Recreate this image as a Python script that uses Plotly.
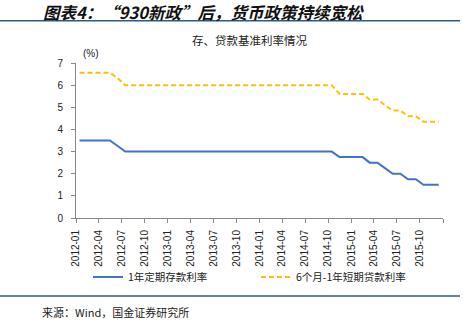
import plotly.graph_objects as go

months = [
    "2012-01", "2012-02", "2012-03", "2012-04", "2012-05", "2012-06",
    "2012-07", "2012-08", "2012-09", "2012-10", "2012-11", "2012-12",
    "2013-01", "2013-02", "2013-03", "2013-04", "2013-05", "2013-06",
    "2013-07", "2013-08", "2013-09", "2013-10", "2013-11", "2013-12",
    "2014-01", "2014-02", "2014-03", "2014-04", "2014-05", "2014-06",
    "2014-07", "2014-08", "2014-09", "2014-10", "2014-11", "2014-12",
    "2015-01", "2015-02", "2015-03", "2015-04", "2015-05", "2015-06",
    "2015-07", "2015-08", "2015-09", "2015-10", "2015-11", "2015-12",
]

deposit_1y = [
    3.5, 3.5, 3.5, 3.5, 3.5, 3.25,
    3.0, 3.0, 3.0, 3.0, 3.0, 3.0,
    3.0, 3.0, 3.0, 3.0, 3.0, 3.0,
    3.0, 3.0, 3.0, 3.0, 3.0, 3.0,
    3.0, 3.0, 3.0, 3.0, 3.0, 3.0,
    3.0, 3.0, 3.0, 3.0, 2.75, 2.75,
    2.75, 2.75, 2.5, 2.5, 2.25, 2.0,
    2.0, 1.75, 1.75, 1.5, 1.5, 1.5,
]

loan_6m_1y = [
    6.56, 6.56, 6.56, 6.56, 6.56, 6.31,
    6.0, 6.0, 6.0, 6.0, 6.0, 6.0,
    6.0, 6.0, 6.0, 6.0, 6.0, 6.0,
    6.0, 6.0, 6.0, 6.0, 6.0, 6.0,
    6.0, 6.0, 6.0, 6.0, 6.0, 6.0,
    6.0, 6.0, 6.0, 6.0, 5.6, 5.6,
    5.6, 5.6, 5.35, 5.35, 5.1, 4.85,
    4.85, 4.6, 4.6, 4.35, 4.35, 4.35,
]

tick_months = [
    "2012-01", "2012-04", "2012-07", "2012-10",
    "2013-01", "2013-04", "2013-07", "2013-10",
    "2014-01", "2014-04", "2014-07", "2014-10",
    "2015-01", "2015-04", "2015-07", "2015-10", "2016-01",
]
tick_labels = [
    "2012-01", "2012-04", "2012-07", "2012-10",
    "2013-01", "2013-04", "2013-07", "2013-10",
    "2014-01", "2014-04", "2014-07", "2014-10",
    "2015-01", "2015-04", "2015-07", "2015-10", "",
]

series_names = ["1年定期存款利率", "6个月-1年短期贷款利率"]

title_text = "图表4：“930新政”后，货币政策持续宽松"
subtitle_text = "存、贷款基准利率情况"
source_text = "来源：Wind，国金证券研究所"

x_dates = [m + "-15" for m in months]
tick_vals = [m + "-01" for m in tick_months]

CJK = "Noto Sans CJK SC"
LAT = "Liberation Sans"

fig = go.Figure()
fig.add_trace(go.Scatter(
    x=x_dates, y=deposit_1y, mode="lines", name=series_names[0],
    line=dict(color="#4472C4", width=2), legend="legend",
))
fig.add_trace(go.Scatter(
    x=x_dates, y=loan_6m_1y, mode="lines", name=series_names[1],
    line=dict(color="#FFC000", width=2, dash="5px,3px"), legend="legend2",
))

W, H = 472, 327
L, R, T, B = 76, 29, 63, 109
pw = W - L - R
ph = H - T - B

def px_x(x):
    return (x - L) / pw

def px_y(y):
    return (H - B - y) / ph

leg_common = dict(
    orientation="h", yanchor="middle", xanchor="left",
    font=dict(family=CJK, size=10.5, color="#222"),
    bgcolor="rgba(0,0,0,0)", itemwidth=30, borderwidth=0,
)

fig.update_layout(
    width=W, height=H,
    margin=dict(l=L, r=R, t=T, b=B),
    paper_bgcolor="white", plot_bgcolor="white",
    showlegend=True,
    legend=dict(x=px_x(88), y=px_y(277), **leg_common),
    legend2=dict(x=px_x(256), y=px_y(277), **leg_common),
    xaxis=dict(
        type="date", range=["2012-01-01", "2016-01-01"],
        tickmode="array", tickvals=tick_vals, ticktext=tick_labels,
        tickangle=-90, tickfont=dict(family=LAT, size=10, color="#222"),
        showgrid=False, zeroline=False,
        showline=True, linecolor="#888", linewidth=1,
        ticks="outside", ticklen=4, tickcolor="#888",
        ticklabelstandoff=3,
    ),
    yaxis=dict(
        range=[0, 7], dtick=1, tickfont=dict(family=LAT, size=10, color="#222"),
        showgrid=False, zeroline=False,
        showline=True, linecolor="#888", linewidth=1,
        ticks="outside", ticklen=4, tickcolor="#888",
        ticklabelstandoff=6,
    ),
)

annotations = [
    dict(text="<b><i>" + title_text + "</i></b>", x=px_x(41), y=px_y(12),
         xanchor="left", yanchor="middle", showarrow=False,
         font=dict(family=CJK, size=16.5, color="#111")),
    dict(text=subtitle_text, x=px_x(249), y=px_y(40),
         xanchor="center", yanchor="middle", showarrow=False,
         font=dict(family=CJK, size=11.5, color="#222")),
    dict(text="(%)", x=px_x(91), y=px_y(54),
         xanchor="center", yanchor="middle", showarrow=False,
         font=dict(family=LAT, size=10, color="#222")),
    dict(text=source_text, x=px_x(40), y=px_y(312),
         xanchor="left", yanchor="middle", showarrow=False,
         font=dict(family=CJK, size=11, color="#222")),
]
for a in annotations:
    a["xref"] = "paper"
    a["yref"] = "paper"
fig.update_layout(annotations=annotations)

for yy in (20.7, 296):
    fig.add_shape(type="line", xref="paper", yref="paper",
                  x0=px_x(0), x1=px_x(460), y0=px_y(yy), y1=px_y(yy),
                  line=dict(color="#2B5C7E", width=1.5))

fig.write_html("out.html")
